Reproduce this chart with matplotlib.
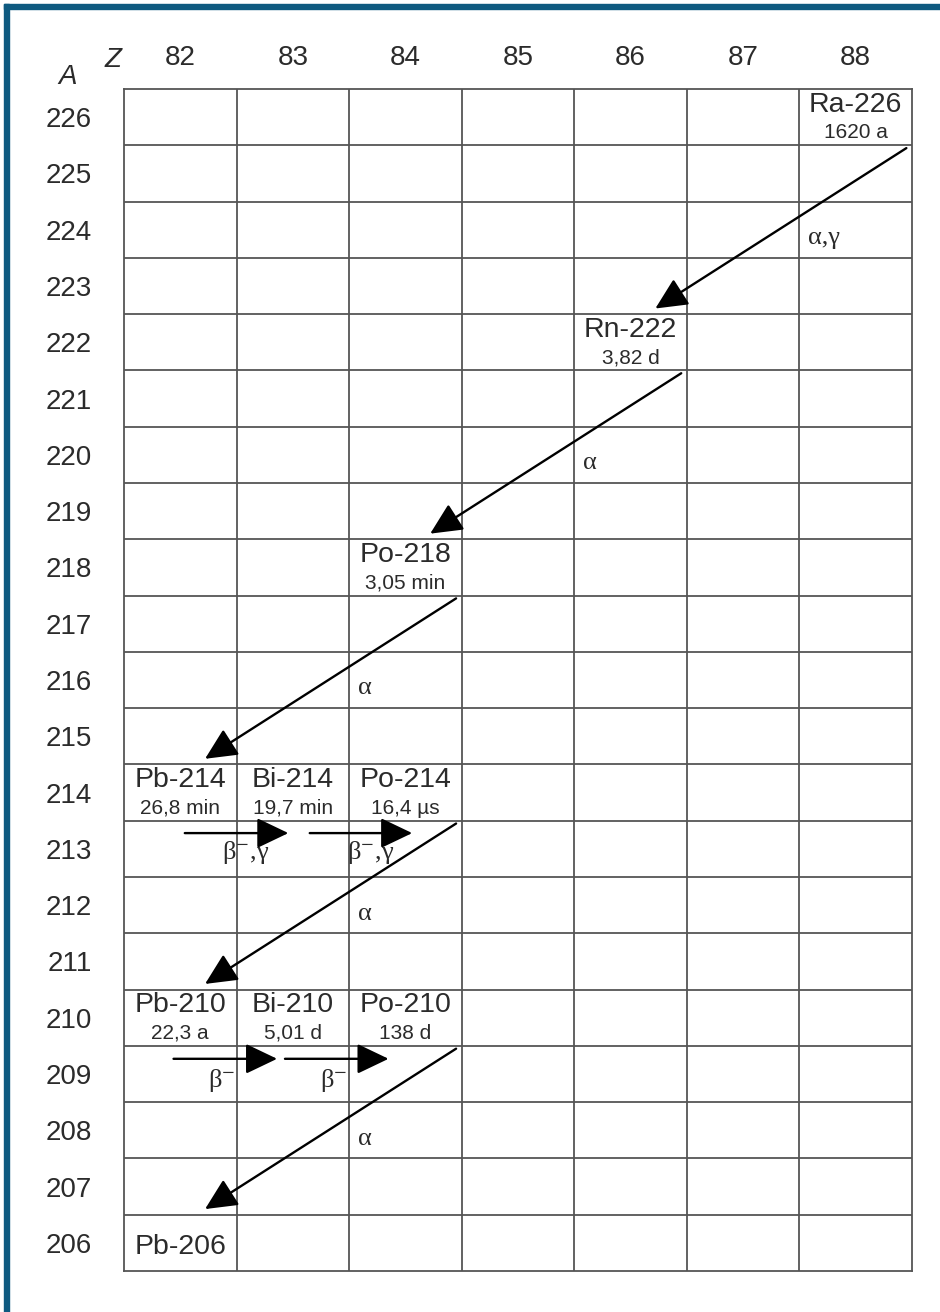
import matplotlib
matplotlib.use("Agg")
import matplotlib.pyplot as plt
from matplotlib.patches import Rectangle

plt.rcParams['font.family'] = ['Liberation Sans', 'DejaVu Sans']
plt.rcParams['mathtext.fontset'] = 'stix'

# ---------------- data ----------------
z_values = [82, 83, 84, 85, 86, 87, 88]
a_values = list(range(226, 205, -1))

nuclide_names = ["Ra-226", "Rn-222", "Po-218", "Pb-214", "Bi-214", "Po-214",
                 "Pb-210", "Bi-210", "Po-210", "Pb-206"]
nuclide_z = [88, 86, 84, 82, 83, 84, 82, 83, 84, 82]
nuclide_a = [226, 222, 218, 214, 214, 214, 210, 210, 210, 206]
half_lives = ["1620 a", "3,82 d", "3,05 min", "26,8 min", "19,7 min", "16,4 µs",
              "22,3 a", "5,01 d", "138 d", ""]

# alpha decays: (parent index, daughter index, label)
alpha_parent = [0, 1, 2, 5, 8]
alpha_daughter = [1, 2, 3, 6, 9]
alpha_labels = ["α,γ", "α", "α", "α", "α"]

# beta decays
beta_parent = [3, 4, 6, 7]
beta_daughter = [4, 5, 7, 8]
beta_labels = ["β$^{-}$,γ", "β$^{-}$,γ", "β$^{-}$", "β$^{-}$"]

# ---------------- figure ----------------
W, H = 940, 1312
fig = plt.figure(figsize=(W / 100, H / 100), dpi=100)
fig.patch.set_facecolor("white")

# border (top and left dark-blue bands)
border_col = "#0e5a80"
fig.add_artist(Rectangle((4 / W, 0), 5 / W, 1 - 4 / H, transform=fig.transFigure,
                         color=border_col, zorder=10))
fig.add_artist(Rectangle((4 / W, 1 - 9 / H), 1 - 4 / W, 5 / H, transform=fig.transFigure,
                         color=border_col, zorder=10))

left, right, top, bottom = 124, 912, 89, 1271
ax = fig.add_axes([left / W, 1 - bottom / H, (right - left) / W, (bottom - top) / H])
zmin, zmax = min(z_values) - 0.5, max(z_values) + 0.5
amin, amax = min(a_values) - 0.5, max(a_values) + 0.5
ax.set_xlim(zmin, zmax)
ax.set_ylim(amin, amax)

text_col = "#2b2b2b"
grid_col = "#555555"
serif = ['Liberation Serif', 'DejaVu Serif']

for s in ax.spines.values():
    s.set_color(grid_col)
    s.set_linewidth(1.3)

# grid lines
ax.vlines([z + 0.5 for z in z_values[:-1]], amin, amax, color=grid_col, lw=1.3, zorder=1)
ax.hlines([a - 0.5 for a in a_values[:-1]], zmin, zmax, color=grid_col, lw=1.3, zorder=1)

# ticks
ax.xaxis.tick_top()
ax.set_xticks(z_values)
ax.set_xticklabels([str(z) for z in z_values])
ax.set_yticks(a_values)
ax.set_yticklabels([str(a) for a in a_values])
ax.tick_params(axis="x", length=0, pad=13, labelsize=20, labelcolor=text_col)
ax.tick_params(axis="y", length=0, pad=23, labelsize=20, labelcolor=text_col)

ax.text(-0.014, 1.0245, "Z", transform=ax.transAxes, ha="center", va="center",
        fontsize=20, style="italic", color=text_col)
ax.text(-0.071, 1.010, "A", transform=ax.transAxes, ha="center", va="center",
        fontsize=20, style="italic", color=text_col)

# nuclide labels
for name, z, a, hl in zip(nuclide_names, nuclide_z, nuclide_a, half_lives):
    if hl:
        ax.text(z, a + 0.22, name, ha="center", va="center", fontsize=20.5, color=text_col)
        ax.text(z, a - 0.28, hl, ha="center", va="center", fontsize=15, color=text_col)
    else:
        ax.text(z, a - 0.07, name, ha="center", va="center", fontsize=20.5, color=text_col)

arrow_kw = dict(arrowstyle="-|>,head_length=1.15,head_width=0.55", color="black",
                lw=1.7, shrinkA=0, shrinkB=0, mutation_scale=17)

# alpha decays
for p, d, lab in zip(alpha_parent, alpha_daughter, alpha_labels):
    zp, ap = nuclide_z[p], nuclide_a[p]
    zd, ad = nuclide_z[d], nuclide_a[d]
    ax.annotate("", xy=(zd + 0.22, ad + 0.6), xytext=(zp + 0.45, ap - 0.55),
                arrowprops=arrow_kw, zorder=5)
    ax.text(zp - 0.42, ap - 2.15, lab, ha="left", va="center", fontsize=19,
            color=text_col, family=serif)

# beta decays (layout offsets)
beta_start_dz = [0.04, 0.15, -0.06, -0.07]
beta_end_dz = [-0.04, 0.06, -0.14, -0.15]
beta_label_dz = [0.37, 0.48, 0.25, 0.24]
beta_y_off = [0.72, 0.72, 0.73, 0.73]
beta_label_dy = [1.06, 1.06, 1.12, 1.12]
for i, (p, d, lab) in enumerate(zip(beta_parent, beta_daughter, beta_labels)):
    zp, ap = nuclide_z[p], nuclide_a[p]
    zd = nuclide_z[d]
    y = ap - beta_y_off[i]
    ax.annotate("", xy=(zd + beta_end_dz[i], y), xytext=(zp + beta_start_dz[i], y),
                arrowprops=arrow_kw, zorder=5)
    ax.text(zp + beta_label_dz[i], ap - beta_label_dy[i], lab, ha="left", va="center",
            fontsize=19, color=text_col, family=serif)

fig.savefig("out.png", dpi=100, facecolor="white")
